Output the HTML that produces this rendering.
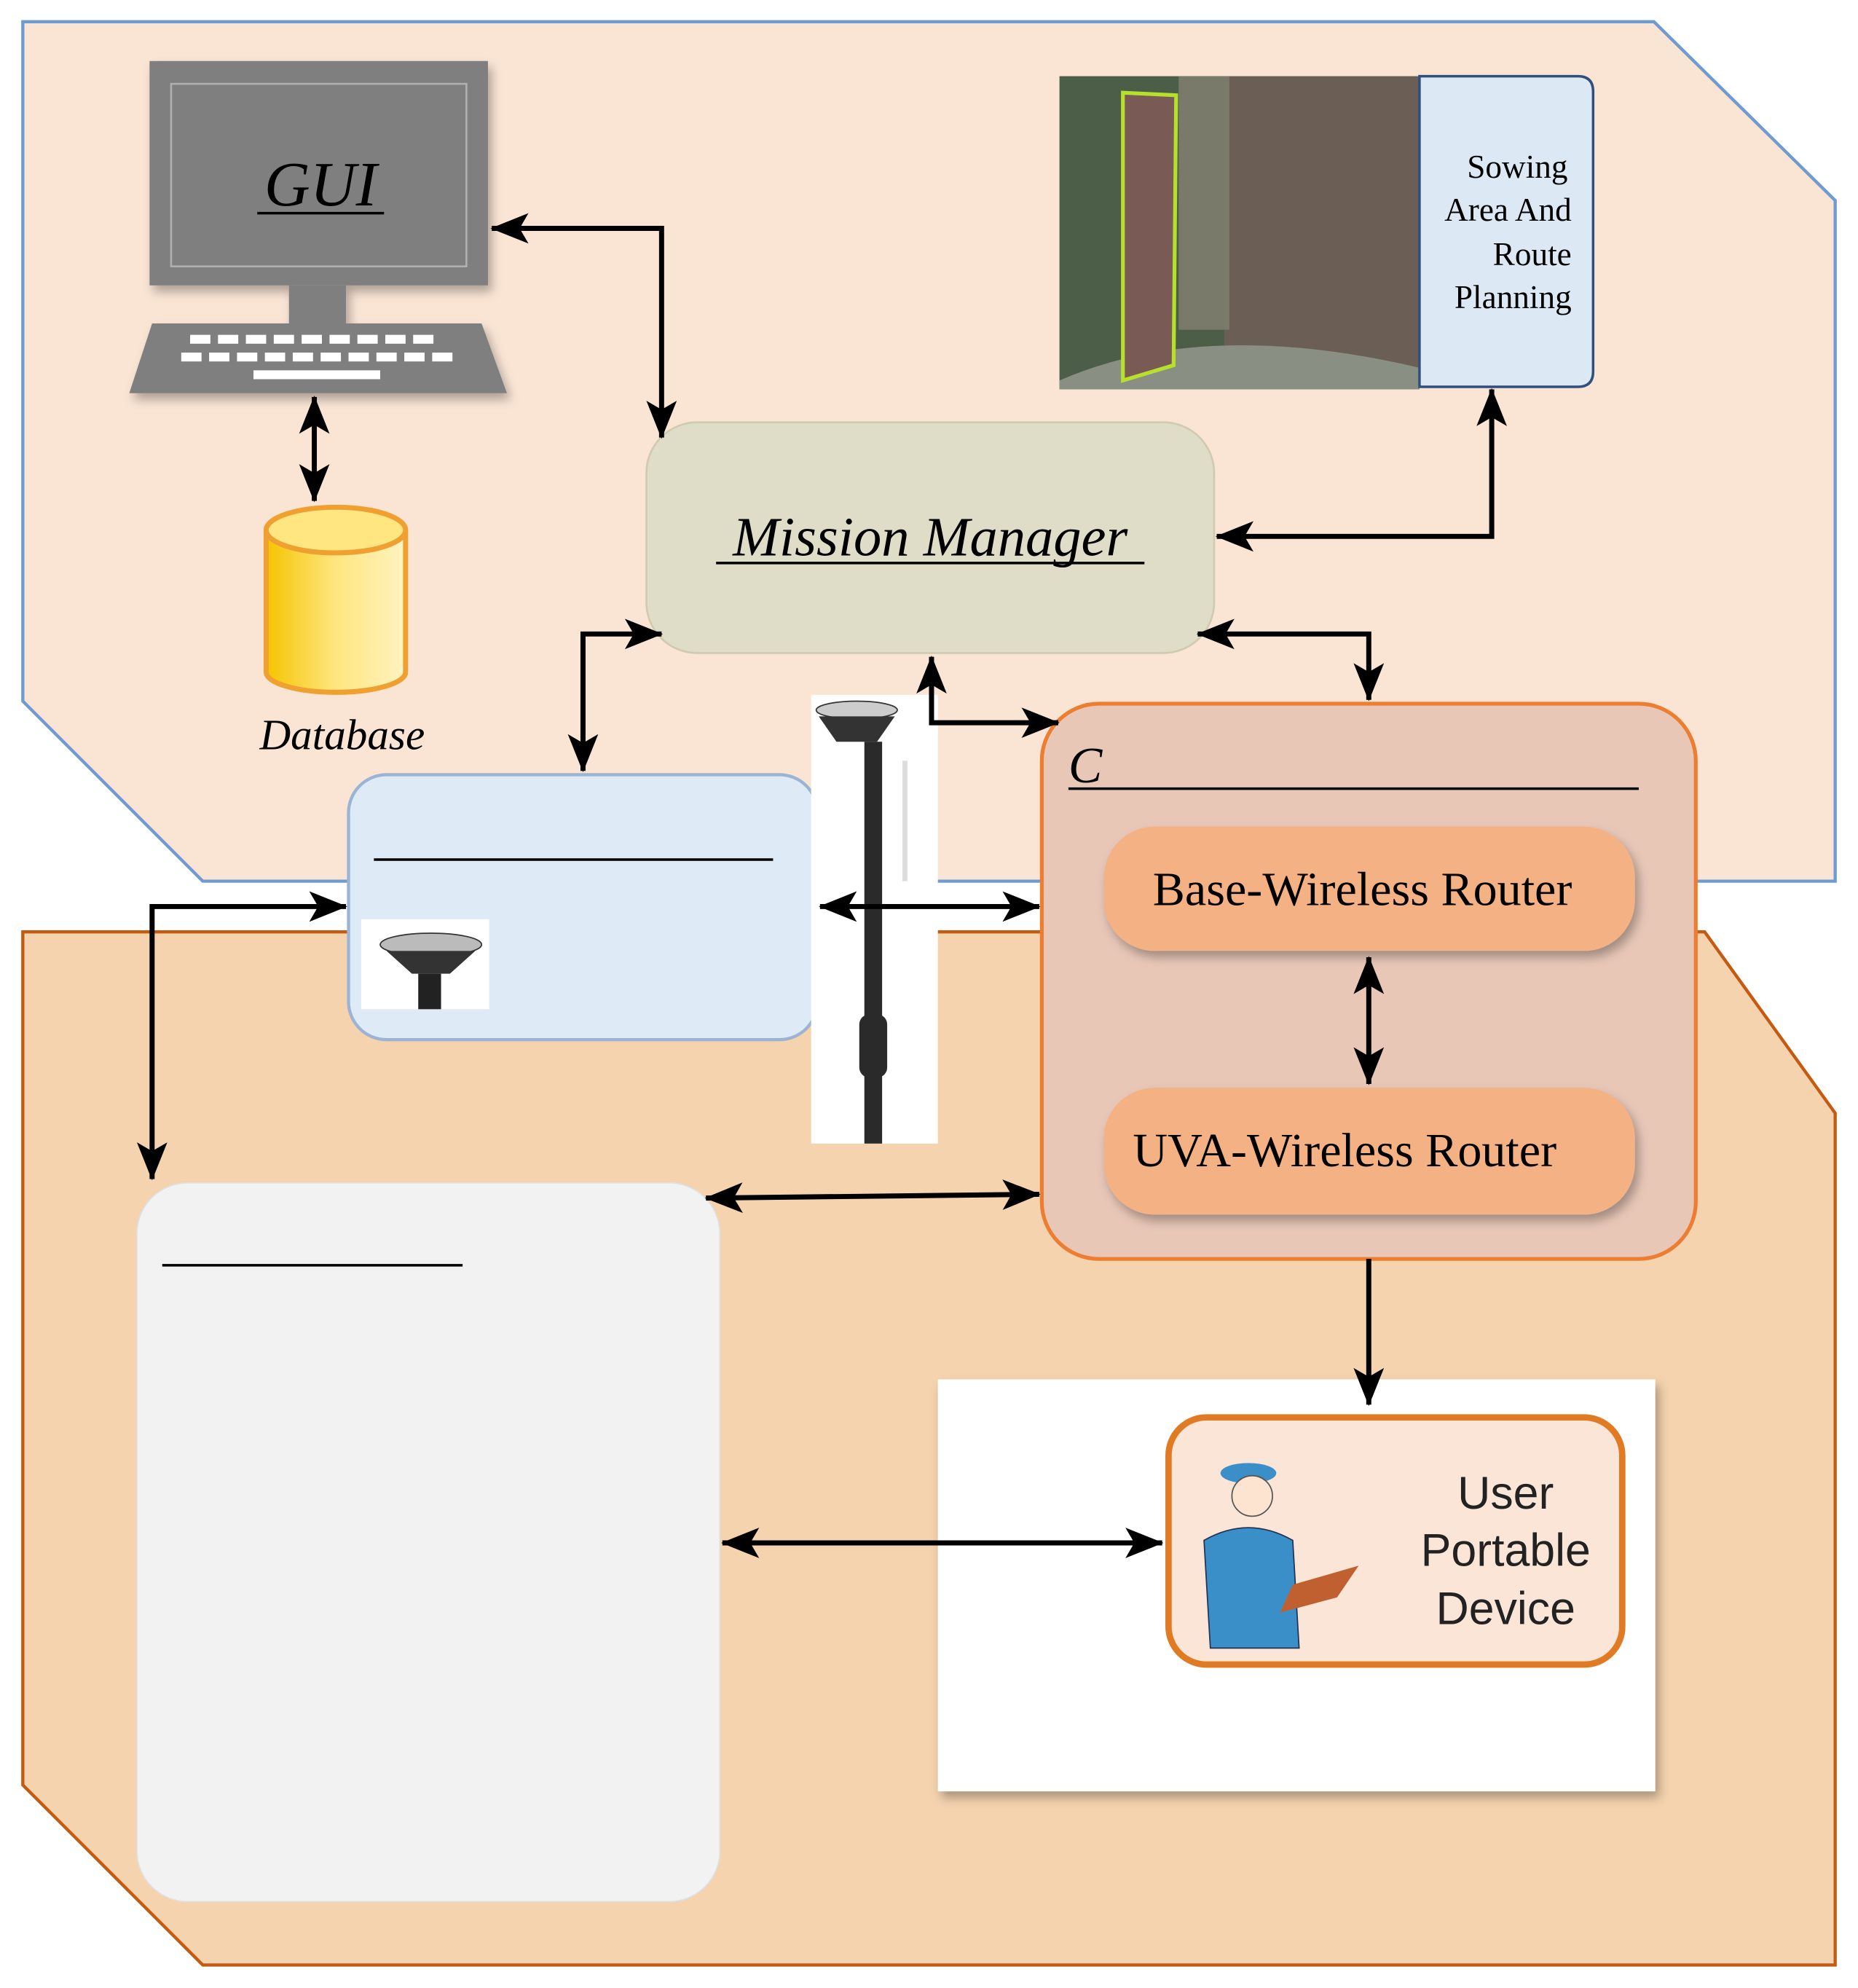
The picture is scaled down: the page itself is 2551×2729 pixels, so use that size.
<!DOCTYPE html>
<html><head><meta charset="utf-8"><style>html,body{margin:0;padding:0;background:#fff}svg{display:block}</style></head>
<body>
<svg width="2551" height="2729" viewBox="0 0 1466 1568" xmlns="http://www.w3.org/2000/svg" font-family="'Liberation Serif', serif">
<defs>
<marker id="ah" viewBox="0 0 30 24" refX="29" refY="12" markerWidth="30" markerHeight="24" markerUnits="userSpaceOnUse" orient="auto-start-reverse"><path d="M0,0 L30,12 L0,24 L7,12 z" fill="#000"/></marker>
<linearGradient id="gold" x1="0" x2="1"><stop offset="0" stop-color="#f5c400"/><stop offset="0.5" stop-color="#ffe680"/><stop offset="1" stop-color="#fff3c0"/></linearGradient>
<filter id="sh" x="-10%" y="-10%" width="130%" height="140%"><feDropShadow dx="3" dy="5" stdDeviation="4" flood-opacity="0.3"/></filter>
</defs>
<rect width="1466" height="1568" fill="#fff"/>
<polygon points="18,735 1345,735 1448,878 1448,1550 160,1550 18,1408" fill="#f4d3ae" stroke="#c55a11" stroke-width="2.5"/>
<polygon points="18,17 1305,17 1448,158 1448,695 160,695 18,553" fill="#fae5d5" stroke="#6f9bd0" stroke-width="2.5"/>

<!-- Monitor -->
<g filter="url(#sh)">
<rect x="118" y="48" width="267" height="177" fill="#7f7f7f"/>
<rect x="228" y="225" width="45" height="30" fill="#7f7f7f"/>
<polygon points="120,255 380,255 400,310 102,310" fill="#7f7f7f"/>
</g>
<rect x="135" y="66" width="233" height="144" fill="none" stroke="#b0b0b0" stroke-width="1.5"/>
<g fill="#fff">
<rect x="150" y="264" width="16" height="7"/><rect x="172" y="264" width="16" height="7"/><rect x="194" y="264" width="16" height="7"/><rect x="216" y="264" width="16" height="7"/><rect x="238" y="264" width="16" height="7"/><rect x="260" y="264" width="16" height="7"/><rect x="282" y="264" width="16" height="7"/><rect x="304" y="264" width="16" height="7"/><rect x="326" y="264" width="16" height="7"/>
<rect x="143" y="278" width="16" height="7"/><rect x="165" y="278" width="16" height="7"/><rect x="187" y="278" width="16" height="7"/><rect x="209" y="278" width="16" height="7"/><rect x="231" y="278" width="16" height="7"/><rect x="253" y="278" width="16" height="7"/><rect x="275" y="278" width="16" height="7"/><rect x="297" y="278" width="16" height="7"/><rect x="319" y="278" width="16" height="7"/><rect x="341" y="278" width="16" height="7"/>
<rect x="200" y="292" width="100" height="7"/>
</g>
<text x="253" y="162" font-size="50" font-style="italic" text-anchor="middle" fill="#000">GUI</text>
<line x1="203" y1="168" x2="303" y2="168" stroke="#000" stroke-width="2"/>

<!-- Database -->
<path d="M210,418 L210,530 A55,16 0 0 0 320,530 L320,418" fill="url(#gold)" stroke="#f0a030" stroke-width="4"/>
<ellipse cx="265" cy="418" rx="55" ry="18" fill="#ffe680" stroke="#f0a030" stroke-width="4"/>
<text x="270" y="591" font-size="34" font-style="italic" text-anchor="middle">Database</text>

<!-- Mission Manager -->
<rect x="510" y="333" width="448" height="182" rx="40" fill="#dfdcc8" stroke="#cfcab0" stroke-width="1.5"/>
<text x="734" y="438" font-size="44" font-style="italic" text-anchor="middle">Mission Manager</text>
<line x1="565" y1="444" x2="903" y2="444" stroke="#000" stroke-width="2"/>

<!-- Map -->
<rect x="836" y="60" width="284" height="247" fill="#5f6a55"/>
<rect x="836" y="60" width="130" height="247" fill="#4d5e48"/>
<rect x="966" y="60" width="154" height="247" fill="#6b5f55"/>
<rect x="930" y="60" width="40" height="200" fill="#7a7a6a"/>
<path d="M836,300 Q950,250 1120,290 L1120,307 L836,307z" fill="#8a8f84"/>
<polygon points="886,73 928,75 926,288 886,300" fill="#7a5a55" stroke="#b7e02c" stroke-width="3"/>
<path d="M1120,60 L1245,60 Q1257,60 1257,72 L1257,293 Q1257,305 1245,305 L1120,305 Z" fill="#dce9f5" stroke="#2f4f7f" stroke-width="2"/>
<g font-size="26" text-anchor="end">
<text x="1237" y="140">Sowing</text><text x="1240" y="174">Area And</text><text x="1240" y="209">Route</text><text x="1240" y="243">Planning</text>
</g>

<!-- Blue box -->
<rect x="275" y="611" width="370" height="209" rx="30" fill="#deebf7" stroke="#9cb4d3" stroke-width="2.5"/>
<line x1="295" y1="678" x2="610" y2="678" stroke="#000" stroke-width="2"/>
<rect x="285" y="725" width="101" height="71" fill="#fff"/>
<ellipse cx="340" cy="745" rx="40" ry="9" fill="#bbb" stroke="#333"/>
<path d="M305,750 L375,750 L355,768 L325,768z" fill="#333"/>
<rect x="330" y="768" width="18" height="28" fill="#222"/>

<!-- Pole -->
<rect x="640" y="548" width="100" height="354" fill="#fff"/>
<ellipse cx="676" cy="560" rx="32" ry="7" fill="#ccc" stroke="#333"/>
<path d="M646,565 L706,565 L692,585 L660,585z" fill="#333"/>
<rect x="682" y="585" width="14" height="317" fill="#2a2a2a"/>
<rect x="678" y="800" width="22" height="50" rx="8" fill="#2a2a2a"/>
<rect x="712" y="600" width="4" height="95" fill="#ddd"/>

<!-- C box -->
<rect x="822" y="555" width="516" height="438" rx="45" fill="#e8c7b7" stroke="#ed7d31" stroke-width="3"/>
<text x="843" y="617" font-size="40" font-style="italic">C</text>
<line x1="843" y1="622" x2="1293" y2="622" stroke="#000" stroke-width="2"/>
<rect x="871" y="652" width="419" height="98" rx="40" fill="#f4b183" filter="url(#sh)"/>
<text x="1075" y="714" font-size="38" text-anchor="middle">Base-Wireless Router</text>
<rect x="871" y="858" width="419" height="100" rx="40" fill="#f4b183" filter="url(#sh)"/>
<text x="1061" y="920" font-size="38" text-anchor="middle">UVA-Wireless Router</text>

<!-- Gray box -->
<rect x="108" y="933" width="460" height="567" rx="40" fill="#f2f2f2" stroke="#e0e0e0"/>
<line x1="128" y1="998" x2="365" y2="998" stroke="#000" stroke-width="2"/>

<!-- White box / user -->
<rect x="740" y="1088" width="566" height="325" fill="#fff" filter="url(#sh)"/>
<rect x="922" y="1118" width="358" height="195" rx="30" fill="#fbe5d6" stroke="#e07b24" stroke-width="5"/>
<g font-family="'Liberation Sans', sans-serif" font-size="36" text-anchor="middle" fill="#222">
<text x="1188" y="1190">User</text><text x="1188" y="1235">Portable</text><text x="1188" y="1281">Device</text>
</g>
<g>
<ellipse cx="985" cy="1162" rx="22" ry="8" fill="#3a8fc8"/>
<circle cx="988" cy="1180" r="16" fill="#fce4d0" stroke="#555"/>
<path d="M950,1215 Q985,1195 1020,1215 L1025,1300 L955,1300z" fill="#3a8fc8" stroke="#235"/>
<path d="M1020,1250 L1072,1235 L1055,1260 L1010,1272z" fill="#c06030"/>
</g>

<!-- Connectors -->
<g stroke="#000" stroke-width="4" fill="none" marker-start="url(#ah)" marker-end="url(#ah)">
<polyline points="388,180 522,180 522,345"/>
<line x1="248" y1="313" x2="248" y2="395"/>
<polyline points="960,423 1177,423 1177,307"/>
<polyline points="945,500 1080,500 1080,552"/>
<polyline points="522,500 460,500 460,608"/>
<polyline points="735,518 735,570 835,570"/>
<line x1="647" y1="715" x2="820" y2="715"/>
<polyline points="273,715 120,715 120,930"/>
<line x1="557" y1="945" x2="820" y2="942"/>
<line x1="1080" y1="755" x2="1080" y2="855"/>
<line x1="570" y1="1217" x2="917" y2="1217"/>
</g>
<line x1="1080" y1="993" x2="1080" y2="1108" stroke="#000" stroke-width="4" marker-end="url(#ah)"/>
</svg>
</body></html>
